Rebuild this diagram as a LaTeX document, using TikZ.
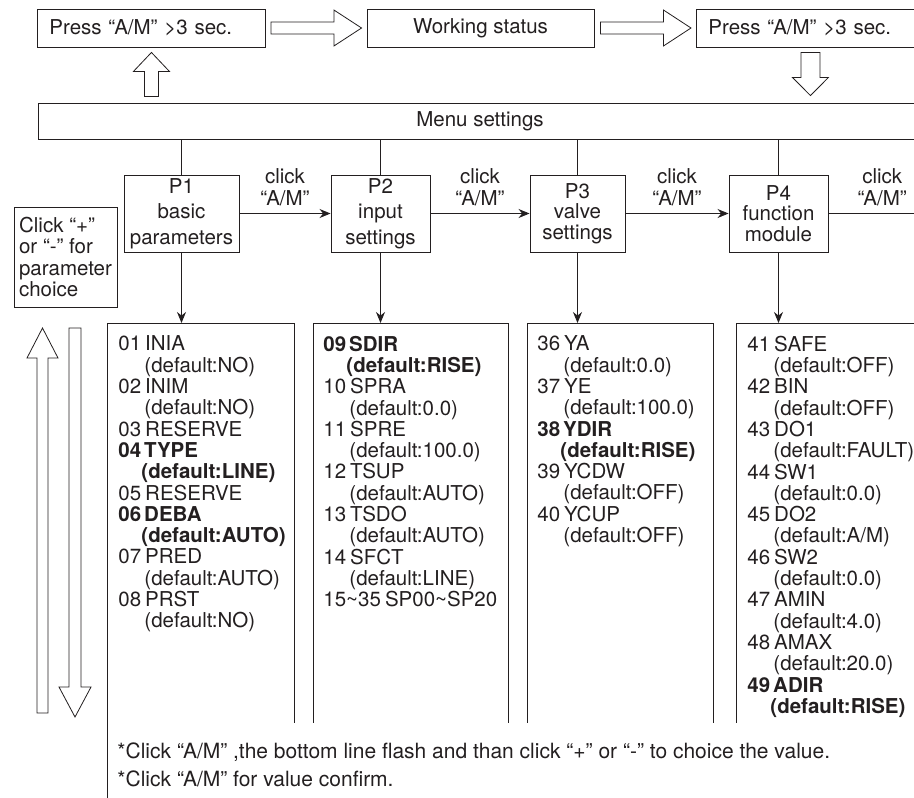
\documentclass[tikz,border=0pt]{standalone}
\usepackage{fontspec}
\setmainfont{TeX Gyre Heros}
\usetikzlibrary{calc, positioning, arrows.meta}
\definecolor{ink}{HTML}{231F20}

% one parameter line and its default value
\newcommand{\pline}[3]{#1\hspace{4pt}#2\\\hspace*{26pt}(default:#3)}
\newcommand{\pbold}[3]{\textbf{#1\hspace{3pt}#2}\\\hspace*{23pt}\textbf{(default:#3)}}

\begin{document}
\begin{tikzpicture}[x=1pt, y=-1pt, line width=0.9pt, color=ink,
    >={Stealth[length=11pt,width=9pt]},
    every node/.style={font=\fontsize{20.5}{21.3}\selectfont},
    box/.style={draw, minimum height=38pt, inner sep=0pt},
    leftbox/.style={box, text width=204pt, align=left, inner xsep=12pt},
    pbox/.style={draw, minimum height=77pt, inner sep=0pt, align=center},
    lbl/.style={align=center, inner sep=0pt, font=\fontsize{20.5}{22}\selectfont},
    lst/.style={align=left, inner sep=0pt, anchor=north west},
    frame/.style={minimum height=399pt, inner sep=0pt, anchor=north west},
    note/.style={anchor=base west, inner sep=0pt, font=\fontsize{21}{21}\selectfont},
    blk/.style={draw, fill=white, line width=0.8pt}]
  \useasboundingbox (0,0) rectangle (914,798);

  % top row
  \node[leftbox, anchor=west] (b1) at (37,28) {Press “A/M” >3 sec.};
  \node[box, minimum width=227pt] (b2) at (480.5,28) {Working status};
  \node[leftbox, anchor=west] (b3) at (696,28) {Press “A/M” >3 sec.};

  \draw[blk] ($(b1.east)+(5,-6)$) -- ++(63,0) -- ++(0,-12) -- ($(b2.west)+(-5,0)$) -- ($(b1.east)+(68,18)$) -- ++(0,-12) -- ($(b1.east)+(5,6)$) -- cycle;
  \draw[blk] ($(b2.east)+(6,-6)$) -- ++(63,0) -- ++(0,-12) -- ($(b3.west)+(-5,0)$) -- ($(b2.east)+(69,18)$) -- ++(0,-12) -- ($(b2.east)+(6,6)$) -- cycle;

  % menu
  \node[draw, minimum width=884pt, minimum height=36pt, inner sep=0pt] (menu) at (480,121) {Menu settings};

  \draw[blk] ($(b1.south)+(0,5)$) -- ($(b1.south)+(18,24)$) -- ++(-11,0) -- ($(b1.south |- menu.north)+(7,-6)$) -- ++(-14,0) -- ($(b1.south)+(-7,24)$) -- ++(-11,0) -- cycle;
  \draw[blk] ($(b3.south)+(-9.5,5)$) -- ++(19,0) -- ($(b3.south)+(9.5,30)$) -- ++(8.5,0) -- ($(b3.south |- menu.north)+(0,-7)$) -- ($(b3.south)+(-18,30)$) -- ++(8.5,0) -- cycle;

  % pages
  \node[pbox, minimum width=115pt, font=\fontsize{20.5}{25.5}\selectfont] (p1) at (181.5,213.5) {P1\\basic\\parameters};
  \node[pbox, minimum width=99pt, font=\fontsize{20.5}{25.5}\selectfont] (p2) at (380.5,213.5) {P2\\input\\settings};
  \node[pbox, minimum width=95pt, font=\fontsize{20.5}{20.5}\selectfont] (p3) at (577.5,213.5) {P3\\valve\\settings};
  \node[pbox, minimum width=99pt, font=\fontsize{20.5}{20.5}\selectfont] (p4) at (778.5,213.5) {P4\\function\\module};
  \coordinate (p5) at (936,213.5);

  \foreach \p in {p1,p2,p3,p4}
    \draw (\p.north) -- (\p.north |- menu.south);

  \draw[->] (p1) -- node[lbl, above=7pt] {click\\“A/M”} (p2);
  \draw[->] (p2) -- node[lbl, above=7pt] {click\\“A/M”} (p3);
  \draw[->] (p3) -- node[lbl, above=7pt] {click\\“A/M”} (p4);
  \draw (p4) -- node[lbl, above=7pt] {click\\“A/M”} (p5);

  \node[draw, minimum width=103pt, minimum height=100pt, inner sep=0pt, align=left] (hint) at (65.5,257) {Click “+”\\or “-” for\\parameter\\choice};

  % up / down
  \draw[blk] (42.5,328) -- (58,358) -- (48,358) -- (48,713) -- (37,713) -- (37,358) -- (27,358) -- cycle;
  \draw[blk] (69,328) -- (81,328) -- (81,687) -- (91,687) -- (75,717) -- (59,687) -- (69,687) -- cycle;

  % lists
  \node[frame, minimum width=187pt] (l1) at (107,323) {};
  \node[frame, minimum width=195pt] (l2) at (313,323) {};
  \node[frame, minimum width=186pt] (l3) at (527,323) {};
  \node[frame, minimum width=190pt] (l4) at (736,323) {};
  \foreach \l in {l1,l2,l3,l4}
    \draw (\l.south west) -- (\l.north west) -- (\l.north east) -- (\l.south east);
  \draw (l1.south west) -- ++(0,76);

  \draw[->] (p1) -- (p1 |- l1.north);
  \draw[->] (p2) -- (p2 |- l2.north);
  \draw[->] (p3) -- (p3 |- l3.north);
  \draw[->] (p4) -- (p4 |- l4.north);

  \node[lst] (t1) at ($(l1.north west)+(11,12.5)$) {\pline{01}{INIA}{NO}\\\pline{02}{INIM}{NO}\\03\hspace{4pt}RESERVE\\\pbold{04}{TYPE}{LINE}\\05\hspace{4pt}RESERVE\\\pbold{06}{DEBA}{AUTO}\\\pline{07}{PRED}{AUTO}\\\pline{08}{PRST}{NO}};
  \node[lst] (t2) at ($(l2.north west)+(10,12.5)$) {\pbold{09}{SDIR}{RISE}\\\pline{10}{SPRA}{0.0}\\\pline{11}{SPRE}{100.0}\\\pline{12}{TSUP}{AUTO}\\\pline{13}{TSDO}{AUTO}\\\pline{14}{SFCT}{LINE}\\15\textasciitilde35\hspace{4pt}SP00\textasciitilde SP20};
  \node[lst] (t3) at ($(l3.north west)+(10,12.5)$) {\pline{36}{YA}{0.0}\\\pline{37}{YE}{100.0}\\\pbold{38}{YDIR}{RISE}\\\pline{39}{YCDW}{OFF}\\\pline{40}{YCUP}{OFF}};
  \node[lst] (t4) at ($(l4.north west)+(11,12.5)$) {\pline{41}{SAFE}{OFF}\\\pline{42}{BIN}{OFF}\\\pline{43}{DO1}{FAULT}\\\pline{44}{SW1}{0.0}\\\pline{45}{DO2}{A/M}\\\pline{46}{SW2}{0.0}\\\pline{47}{AMIN}{4.0}\\\pline{48}{AMAX}{20.0}\\\pbold{49}{ADIR}{RISE}};

  % notes
  \node[note] (n1) at (117,758) {*Click “A/M” ,the bottom line flash and than click “+” or “-” to choice the value.};
  \node[note] (n2) at (117,786) {*Click “A/M” for value confirm.};
\end{tikzpicture}
\end{document}
